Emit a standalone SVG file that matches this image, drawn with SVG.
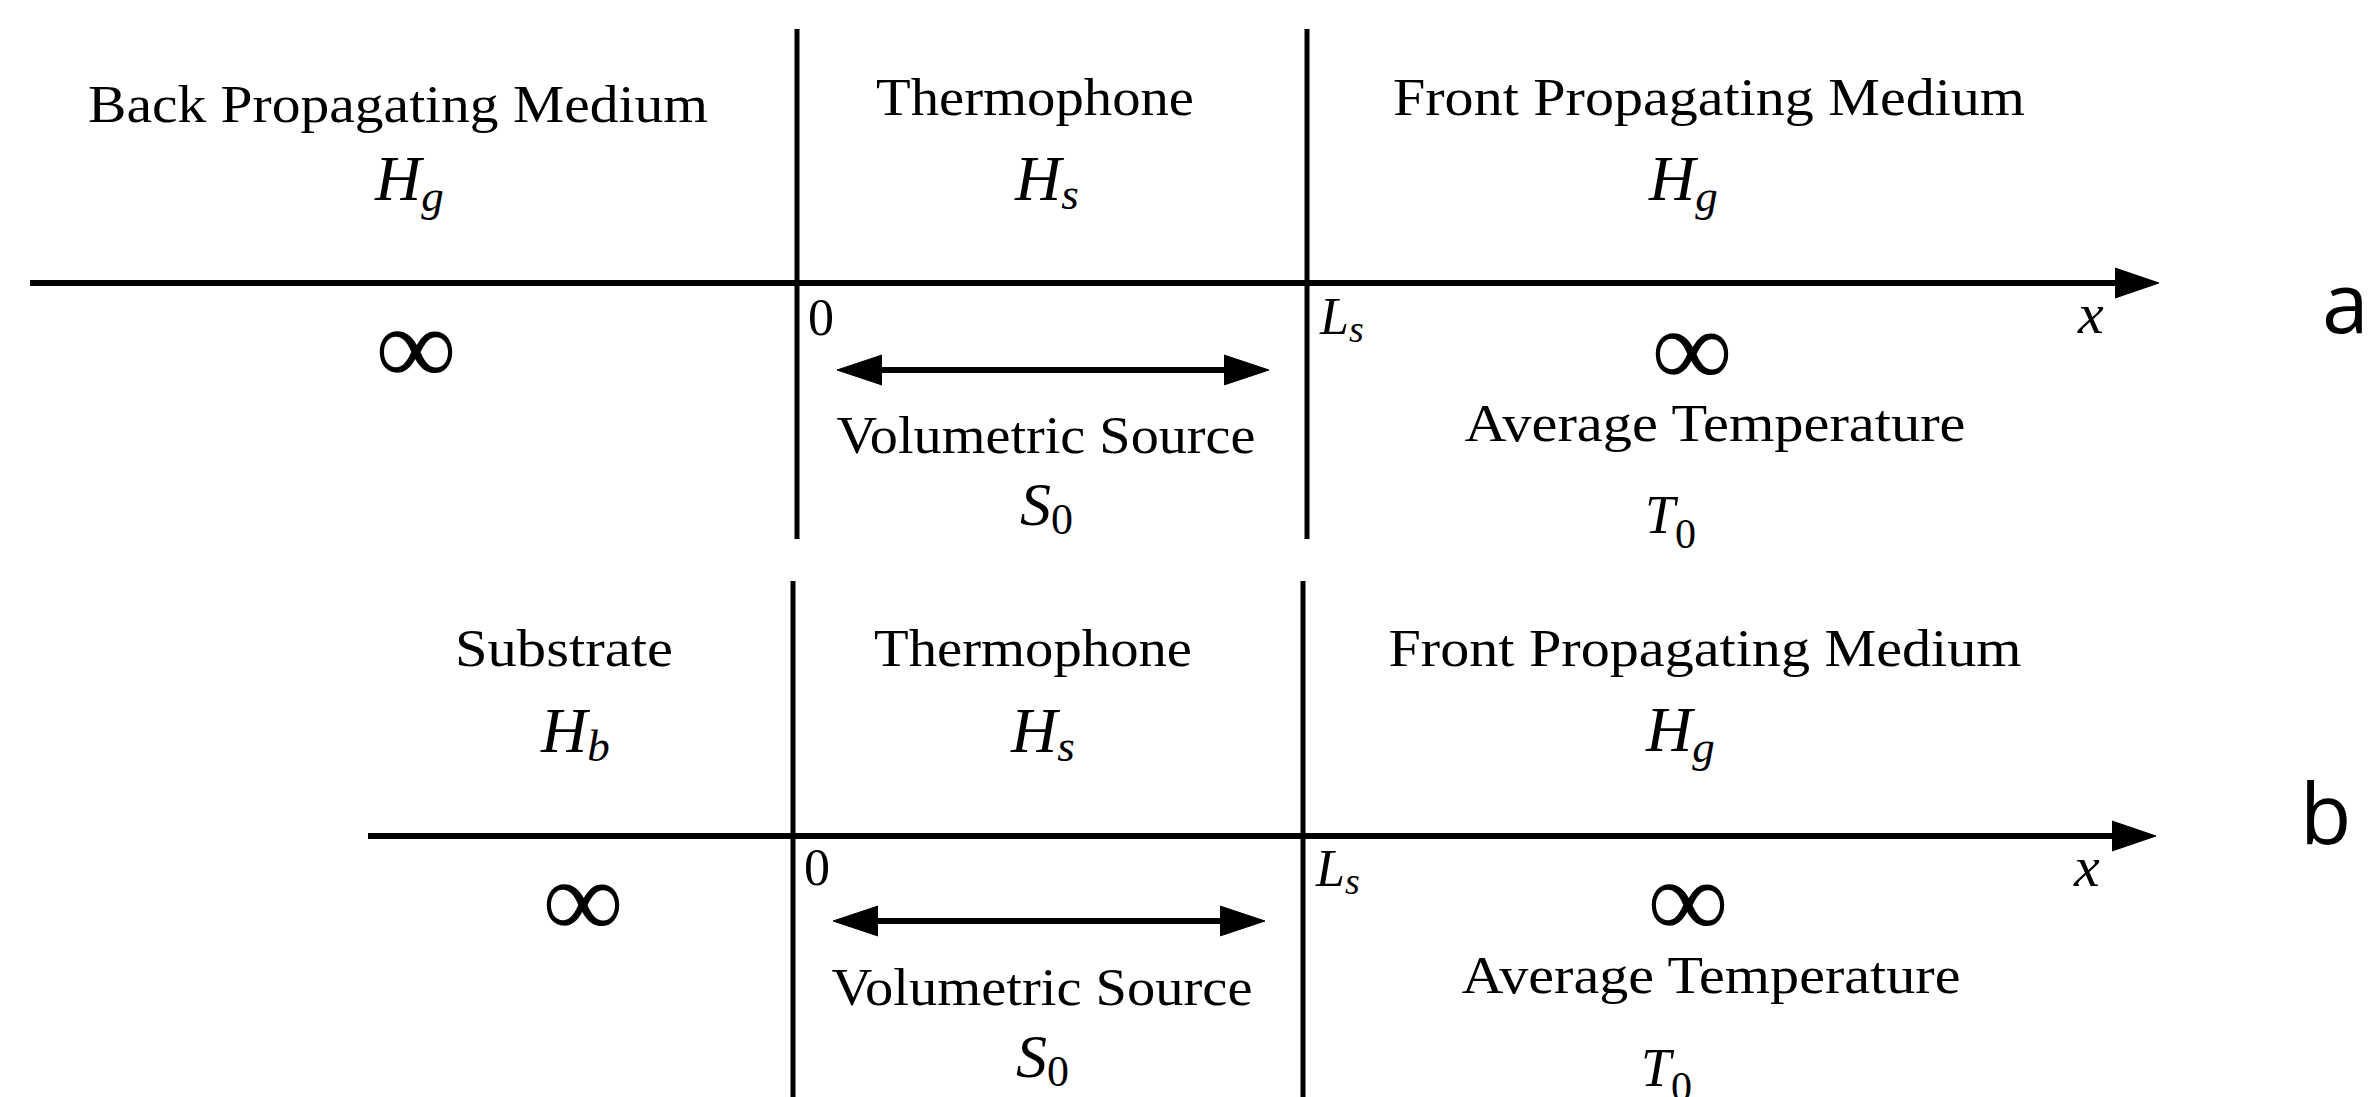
<svg xmlns="http://www.w3.org/2000/svg" width="2372" height="1097" viewBox="0 0 2372 1097">
<style>
.t{font-family:"Liberation Serif",serif;font-size:52px;text-anchor:middle;fill:#000}
.m{font-family:"Liberation Serif",serif;font-style:italic;fill:#000}
.u{font-family:"Liberation Serif",serif;fill:#000}
.inf{font-family:"Liberation Serif",serif;font-size:110px;text-anchor:middle;fill:#000}
.lab{font-family:"Open Sans",sans-serif;font-size:84px;fill:#000}
.ax{stroke:#000;stroke-width:6;fill:none}
.div{stroke:#000;stroke-width:5;fill:none}
.dbl{stroke:#000;stroke-width:6;fill:none;marker-start:url(#ah);marker-end:url(#ah)}
</style>
<defs>
<marker id="ah" markerUnits="userSpaceOnUse" markerWidth="46" markerHeight="32" viewBox="0 0 46 32" refX="2" refY="16" orient="auto-start-reverse">
<path d="M0,1 L45,16 L0,31 z" fill="#000" stroke="#000" stroke-width="1" stroke-linejoin="round"/>
</marker>
<marker id="ax" markerUnits="userSpaceOnUse" markerWidth="46" markerHeight="32" viewBox="0 0 46 32" refX="2" refY="16" orient="auto">
<path d="M0,1 L44,16 L0,31 z" fill="#000" stroke="#000" stroke-width="1" stroke-linejoin="round"/>
</marker>
</defs>
<rect width="2372" height="1097" fill="#fff"/>

<g id="connectors">
<line class="ax" x1="30" y1="283" x2="2117" y2="283" marker-end="url(#ax)"/>
<line class="div" x1="797" y1="29" x2="797" y2="539"/>
<line class="div" x1="1307" y1="29" x2="1307" y2="539"/>
<line class="dbl" x1="880" y1="370" x2="1226" y2="370"/>
<line class="ax" x1="368" y1="836" x2="2114" y2="836" marker-end="url(#ax)"/>
<line class="div" x1="793" y1="581" x2="793" y2="1097"/>
<line class="div" x1="1303" y1="581" x2="1303" y2="1097"/>
<line class="dbl" x1="876" y1="921" x2="1222" y2="921"/>
</g>

<g id="panel-a">
<g id="a-back">
<text class="t" x="398" y="122" textLength="620" lengthAdjust="spacingAndGlyphs">Back Propagating Medium</text>
<text class="m" x="375" y="200" font-size="64">H<tspan font-size="45" dy="11">g</tspan></text>
<text class="inf" x="416" y="384" textLength="81" lengthAdjust="spacingAndGlyphs">∞</text>
</g>
<g id="a-thermo">
<text class="t" x="1035" y="115" textLength="318" lengthAdjust="spacingAndGlyphs">Thermophone</text>
<text class="m" x="1015" y="200" font-size="64">H<tspan font-size="45" dy="9">s</tspan></text>
<text class="u" x="808" y="335" font-size="52">0</text>
<text class="t" x="1046" y="453" textLength="419" lengthAdjust="spacingAndGlyphs">Volumetric Source</text>
<text class="m" x="1020" y="525" font-size="62">S<tspan class="u" font-style="normal" font-size="44" dy="9">0</tspan></text>
</g>
<g id="a-front">
<text class="t" x="1709" y="115" textLength="632" lengthAdjust="spacingAndGlyphs">Front Propagating Medium</text>
<text class="m" x="1649" y="200" font-size="64">H<tspan font-size="45" dy="11">g</tspan></text>
<text class="m" x="1320" y="334" font-size="52">L<tspan font-size="38" dy="8">s</tspan></text>
<text class="m" x="2078" y="333" font-size="58">x</text>
<text class="inf" x="1692" y="386" textLength="81" lengthAdjust="spacingAndGlyphs">∞</text>
<text class="t" x="1715" y="441" textLength="501" lengthAdjust="spacingAndGlyphs">Average Temperature</text>
<text class="m" x="1645" y="533" font-size="54">T<tspan class="u" font-style="normal" font-size="42" dy="15">0</tspan></text>
</g>
<text id="label-a" class="lab" x="2322" y="333">a</text>
</g>

<g id="panel-b">
<g id="b-substrate">
<text class="t" x="564" y="666" textLength="218" lengthAdjust="spacingAndGlyphs">Substrate</text>
<text class="m" x="541" y="752" font-size="64">H<tspan font-size="45" dy="9">b</tspan></text>
<text class="inf" x="583" y="937" textLength="81" lengthAdjust="spacingAndGlyphs">∞</text>
</g>
<g id="b-thermo">
<text class="t" x="1033" y="666" textLength="318" lengthAdjust="spacingAndGlyphs">Thermophone</text>
<text class="m" x="1011" y="752" font-size="64">H<tspan font-size="45" dy="9">s</tspan></text>
<text class="u" x="804" y="885" font-size="52">0</text>
<text class="t" x="1042" y="1005" textLength="421" lengthAdjust="spacingAndGlyphs">Volumetric Source</text>
<text class="m" x="1016" y="1077" font-size="62">S<tspan class="u" font-style="normal" font-size="44" dy="9">0</tspan></text>
</g>
<g id="b-front">
<text class="t" x="1705" y="666" textLength="633" lengthAdjust="spacingAndGlyphs">Front Propagating Medium</text>
<text class="m" x="1646" y="751" font-size="64">H<tspan font-size="45" dy="11">g</tspan></text>
<text class="m" x="1316" y="886" font-size="52">L<tspan font-size="38" dy="8">s</tspan></text>
<text class="m" x="2074" y="886" font-size="58">x</text>
<text class="inf" x="1688" y="937" textLength="81" lengthAdjust="spacingAndGlyphs">∞</text>
<text class="t" x="1711" y="993" textLength="499" lengthAdjust="spacingAndGlyphs">Average Temperature</text>
<text class="m" x="1641" y="1086" font-size="54">T<tspan class="u" font-style="normal" font-size="42" dy="15">0</tspan></text>
</g>
<text id="label-b" class="lab" x="2300" y="844">b</text>
</g>
</svg>
